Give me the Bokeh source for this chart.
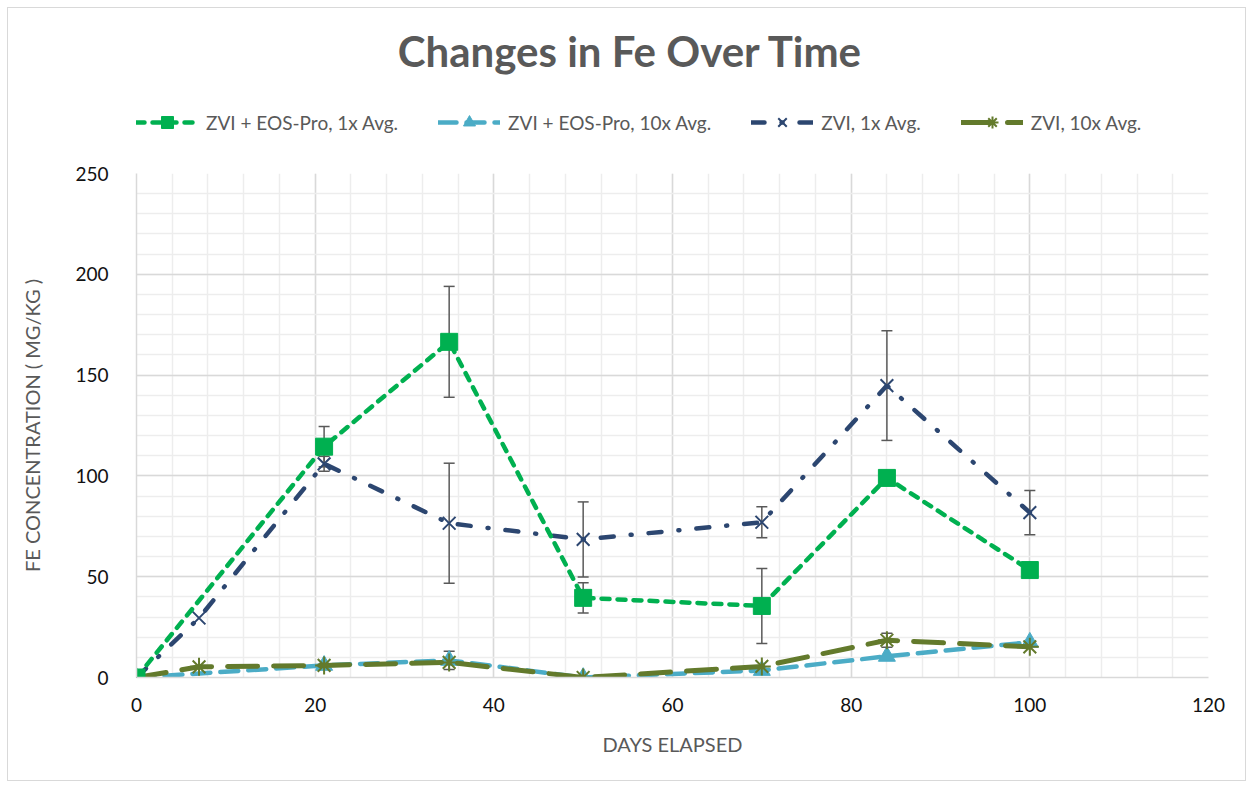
from bokeh.plotting import figure
from bokeh.layouts import column
from bokeh.models import (ColumnDataSource, Whisker, Legend, LegendItem,
                          SingleIntervalTicker, Range1d, TeeHead, Label)
from bokeh.embed import file_html
from bokeh.resources import INLINE

# ---- data ----
days_a = [0, 21, 35, 50, 70, 84, 100]
days_b = [0, 7, 21, 35, 50, 70, 84, 100]

eos1_vals = [0, 114.5, 166.5, 39.5, 35.5, 99, 53.3]
eos1_err = [0, 10, 27.5, 7.5, 18.6, 0, 0]

eos10_vals = [0, 6, 8.5, 0, 3.5, 10.5, 17.5]
eos10_err = [0, 0, 4.5, 0, 0, 0, 0]

zvi1_vals = [0, 29.5, 106, 76.5, 68.5, 77, 144.8, 81.8]
zvi1_err = [0, 0, 3.7, 29.8, 18.6, 7.7, 27.2, 11]

zvi10_vals = [0, 5.3, 6, 7.5, 0, 5.5, 18.5, 15.2]
zvi10_err = [0, 0, 0, 0, 0, 0, 3.5, 0]

names = ["ZVI + EOS-Pro, 1x Avg.", "ZVI + EOS-Pro, 10x Avg.", "ZVI, 1x Avg.", "ZVI, 10x Avg."]
title_text = "Changes in Fe Over Time"

FONT = "Lato"
GRAY = "#595959"
GREEN = "#00B050"
LBLUE = "#4BACC6"
DBLUE = "#2C4670"
OLIVE = "#637A2C"

W = 1237
HEAD_H = 150
MAIN_H = 772 - HEAD_H
ML, MR, MT, MB = 128, 37, 15, 103

styles = [
    dict(name=names[0], x=days_a, y=eos1_vals, e=eos1_err, color=GREEN, dash="8 8", lw=4.5,
         marker="square", size=17),
    dict(name=names[1], x=days_a, y=eos10_vals, e=eos10_err, color=LBLUE, dash="18 10", lw=4.5,
         marker="triangle", size=17),
    dict(name=names[2], x=days_b, y=zvi1_vals, e=zvi1_err, color=DBLUE, dash="13 17 1 17", lw=4.5,
         marker="x", size=18),
    dict(name=names[3], x=days_b, y=zvi10_vals, e=zvi10_err, color=OLIVE, dash="30 16", lw=5,
         marker="asterisk", size=18),
]


def draw_series(fig, st, legend_size=None):
    src = ColumnDataSource(dict(x=st["x"], y=st["y"]))
    ln = fig.line("x", "y", source=src, line_color=st["color"], line_width=st["lw"],
                  line_dash=st["dash"], line_cap="round")
    size = legend_size or st["size"]
    if st["marker"] in ("x", "asterisk"):
        mk = fig.scatter("x", "y", source=src, marker=st["marker"], size=size,
                         line_color=st["color"], line_width=2)
    else:
        mk = fig.scatter("x", "y", source=src, marker=st["marker"], size=size,
                         fill_color=st["color"], line_color=st["color"])
    return ln, mk


# ---------------- main chart ----------------
p = figure(width=W, height=MAIN_H, output_backend="svg", toolbar_location=None,
           x_range=Range1d(0, 120), y_range=Range1d(0, 250),
           min_border_left=ML, min_border_right=MR, min_border_top=MT, min_border_bottom=MB)
p.outline_line_color = None

p.xaxis.ticker = SingleIntervalTicker(interval=20, num_minor_ticks=5)
p.yaxis.ticker = SingleIntervalTicker(interval=50, num_minor_ticks=5)
for ax in (p.xaxis[0], p.yaxis[0]):
    ax.axis_line_color = "#D9D9D9"
    ax.axis_line_width = 1.5
    ax.major_tick_line_color = None
    ax.minor_tick_line_color = None
    ax.major_label_text_font = FONT
    ax.major_label_text_font_size = "19px"
    ax.major_label_text_color = "#111111"
    ax.axis_label_text_font = FONT
    ax.axis_label_text_font_size = "20px"
    ax.axis_label_text_color = GRAY
    ax.axis_label_text_font_style = "normal"
p.xaxis.axis_label = "DAYS ELAPSED"
p.yaxis.axis_label = "FE CONCENTRATION ( MG/KG )"
p.xaxis.major_label_standoff = 14
p.yaxis.major_label_standoff = 22
p.xaxis.axis_label_standoff = 17
p.yaxis.axis_label_standoff = 28

for g in (p.xgrid[0], p.ygrid[0]):
    g.grid_line_color = "#D9D9D9"
    g.grid_line_width = 1.5
    g.minor_grid_line_color = "#EDEDED"
    g.minor_grid_line_width = 1.5

# draw order: light blue, olive, dark blue, green
for idx in (1, 3, 2, 0):
    st = styles[idx]
    draw_series(p, st)
    xs = [a for a, d in zip(st["x"], st["e"]) if d > 0]
    lo = [b - d for b, d in zip(st["y"], st["e"]) if d > 0]
    hi = [b + d for b, d in zip(st["y"], st["e"]) if d > 0]
    esrc = ColumnDataSource(dict(x=xs, lo=lo, hi=hi))
    p.add_layout(Whisker(source=esrc, base="x", lower="lo", upper="hi", dimension="height",
                         line_color="#595959", line_width=1.5,
                         upper_head=TeeHead(size=11, line_color="#595959", line_width=1.5),
                         lower_head=TeeHead(size=11, line_color="#595959", line_width=1.5)))

# ---------------- header (title + legend) ----------------
head = figure(width=W, height=HEAD_H, output_backend="svg", toolbar_location=None,
              x_range=Range1d(1000, 1001), y_range=Range1d(1000, 1001),
              min_border_left=ML, min_border_right=MR, min_border_top=0, min_border_bottom=0,
              x_axis_type=None, y_axis_type=None)
head.outline_line_color = None
head.grid.visible = False

items = []
for st in styles:
    ln, mk = draw_series(head, st, legend_size=16)
    items.append(LegendItem(label=st["name"], renderers=[ln, mk]))

legend = Legend(items=items, orientation="horizontal", location=(0, 21),
                label_text_font=FONT, label_text_font_size="19px", label_text_color=GRAY,
                glyph_width=62, glyph_height=30, spacing=40, padding=0, margin=0,
                label_standoff=8, label_height=30,
                border_line_color=None, background_fill_alpha=0)
head.add_layout(legend, "center")

# title centred over the whole chart (frame starts 128px from the left edge)
head.add_layout(Label(x=494, y=108, x_units="screen", y_units="screen", text=title_text,
                      text_font=FONT, text_font_size="42px", text_font_style="bold",
                      text_color=GRAY, text_align="center", text_baseline="middle"))

layout = column(head, p, spacing=0)
layout.margin = (7, 0, 0, 7)
layout.styles = {"border": "1px solid #D9D9D9"}

open("out.html", "w").write(file_html(layout, INLINE))
